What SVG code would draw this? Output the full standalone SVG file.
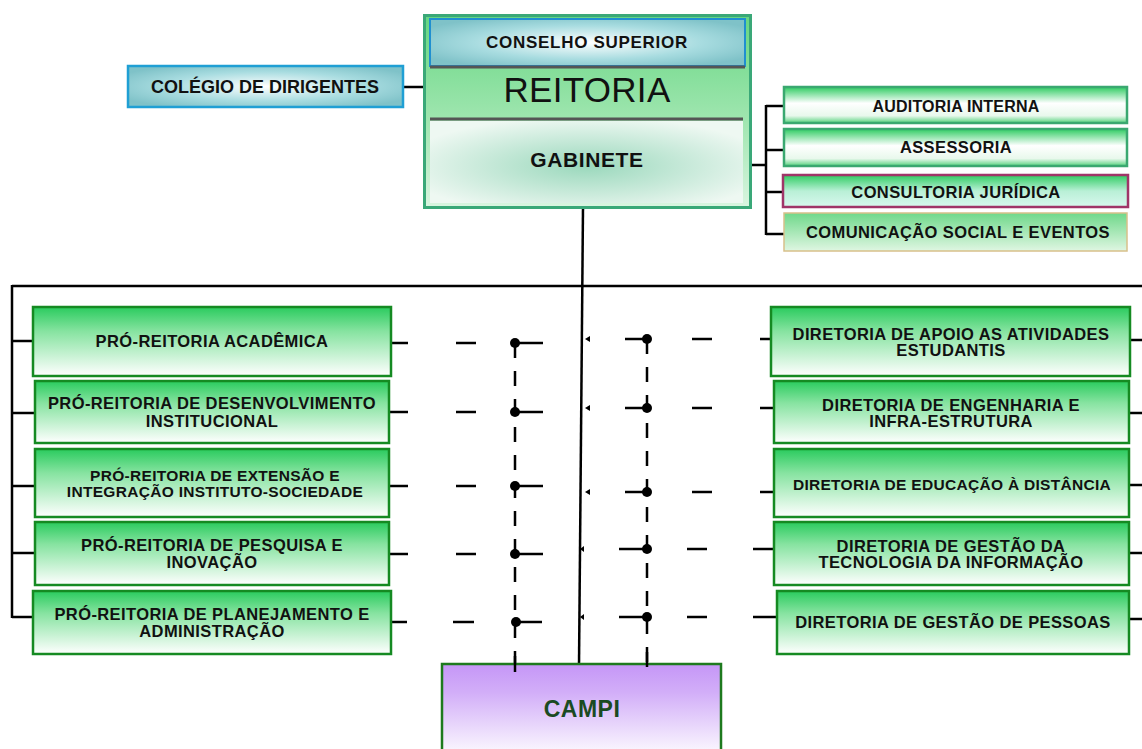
<svg xmlns="http://www.w3.org/2000/svg" width="1142" height="749" viewBox="0 0 1142 749">
<defs>
<linearGradient id="gGreen" x1="0" y1="0" x2="0" y2="1">
<stop offset="0" stop-color="#2acb5e"/><stop offset="0.35" stop-color="#86e3a0"/><stop offset="1" stop-color="#ffffff"/>
</linearGradient>
<linearGradient id="gBand" x1="0" y1="0" x2="0" y2="1">
<stop offset="0" stop-color="#2fcc62"/><stop offset="0.45" stop-color="#ffffff"/><stop offset="0.8" stop-color="#e8f8ec"/><stop offset="1" stop-color="#55d27c"/>
</linearGradient>
<linearGradient id="gJur" x1="0" y1="0" x2="0" y2="1">
<stop offset="0" stop-color="#2fcc62"/><stop offset="0.5" stop-color="#b9f0d6"/><stop offset="1" stop-color="#d8f8ee"/>
</linearGradient>
<linearGradient id="gCom" x1="0" y1="0" x2="0" y2="1">
<stop offset="0" stop-color="#6fd88a"/><stop offset="1" stop-color="#dff6e2"/>
</linearGradient>
<radialGradient id="gTeal" cx="0.5" cy="0.5" r="0.6">
<stop offset="0" stop-color="#ffffff"/><stop offset="0.6" stop-color="#a8dce0"/><stop offset="1" stop-color="#7fc2c8"/>
</radialGradient>
<radialGradient id="gGab" cx="0.5" cy="0.55" r="0.6">
<stop offset="0" stop-color="#9ad8bc"/><stop offset="1" stop-color="#eef8f2"/>
</radialGradient>
<linearGradient id="gReit" x1="0" y1="0" x2="0" y2="1">
<stop offset="0" stop-color="#66d682"/><stop offset="0.55" stop-color="#a0e6b0"/><stop offset="1" stop-color="#d9f5e0"/>
</linearGradient>
<linearGradient id="gCampi" x1="0" y1="0" x2="0" y2="1">
<stop offset="0" stop-color="#c596f7"/><stop offset="0.3" stop-color="#d2aef8"/><stop offset="1" stop-color="#ffffff"/>
</linearGradient>
<style>
.t{font-family:"Liberation Sans",Arial,sans-serif;font-weight:bold;fill:#111;text-anchor:middle}
.s15{font-size:16.5px;letter-spacing:0.4px}
.s14{font-size:15.5px;letter-spacing:0.3px}
.box{fill:url(#gGreen);stroke:#158a22;stroke-width:2.5}
.ln{stroke:#000;stroke-width:2.5;fill:none}
.dv{stroke:#000;stroke-width:2.5;fill:none;stroke-dasharray:15 13}
</style>
</defs>
<rect width="1142" height="749" fill="#ffffff"/>

<g id="connectors">
<line class="ln" x1="403" y1="87" x2="427" y2="87"/>
<polyline class="ln" points="745,165 766,165"/>
<line class="ln" x1="766" y1="105" x2="766" y2="235"/>
<line class="ln" x1="766" y1="106" x2="784" y2="106"/>
<line class="ln" x1="766" y1="150" x2="784" y2="150"/>
<line class="ln" x1="766" y1="192" x2="784" y2="192"/>
<line class="ln" x1="766" y1="234" x2="784" y2="234"/>
<line class="ln" x1="583" y1="207" x2="579" y2="665"/>
<line class="ln" x1="12" y1="286" x2="1142" y2="286"/>
<line class="ln" x1="12" y1="285" x2="12" y2="618"/>
<line class="ln" x1="12" y1="341" x2="34" y2="341"/>
<line class="ln" x1="12" y1="413" x2="36" y2="413"/>
<line class="ln" x1="12" y1="486" x2="36" y2="486"/>
<line class="ln" x1="12" y1="553" x2="36" y2="553"/>
<line class="ln" x1="12" y1="617" x2="34" y2="617"/>
<line class="ln" x1="1130" y1="340" x2="1142" y2="340"/>
<line class="ln" x1="1129" y1="413" x2="1142" y2="413"/>
<line class="ln" x1="1129" y1="485" x2="1142" y2="485"/>
<line class="ln" x1="1129" y1="553" x2="1142" y2="553"/>
<line class="ln" x1="1129" y1="619" x2="1142" y2="619"/>
<g>
<line class="ln" x1="388" y1="343" x2="408" y2="343"/><line class="ln" x1="456" y1="343" x2="476" y2="343"/><line class="ln" x1="515" y1="343" x2="543" y2="343"/>
<line class="ln" x1="388" y1="412" x2="408" y2="412"/><line class="ln" x1="456" y1="412" x2="476" y2="412"/><line class="ln" x1="515" y1="412" x2="543" y2="412"/>
<line class="ln" x1="388" y1="486" x2="408" y2="486"/><line class="ln" x1="456" y1="486" x2="476" y2="486"/><line class="ln" x1="515" y1="486" x2="543" y2="486"/>
<line class="ln" x1="388" y1="554" x2="408" y2="554"/><line class="ln" x1="456" y1="554" x2="476" y2="554"/><line class="ln" x1="515" y1="554" x2="543" y2="554"/>
<line class="ln" x1="387" y1="622" x2="407" y2="622"/><line class="ln" x1="453" y1="622" x2="474" y2="622"/><line class="ln" x1="515" y1="622" x2="542" y2="622"/>
<circle cx="515" cy="343" r="5"/><circle cx="515" cy="412" r="5"/><circle cx="515" cy="486" r="5"/><circle cx="515" cy="554" r="5"/><circle cx="516" cy="622" r="5"/>
<line class="dv" x1="515" y1="343" x2="515" y2="670"/>
</g>
<g fill="#000">
<polygon points="585,339 590,336 590,342"/>
<polygon points="585,408 590,405 590,411"/>
<polygon points="585,492 590,489 590,495"/>
<polygon points="580,549 584,546 584,552"/>
<polygon points="580,617 584,614 584,620"/>
</g>
<g>
<line class="ln" x1="625" y1="339" x2="647" y2="339"/><line class="ln" x1="692" y1="339" x2="712" y2="339"/><line class="ln" x1="760" y1="339" x2="772" y2="339"/>
<line class="ln" x1="625" y1="408" x2="647" y2="408"/><line class="ln" x1="692" y1="408" x2="712" y2="408"/><line class="ln" x1="760" y1="408" x2="775" y2="408"/>
<line class="ln" x1="625" y1="492" x2="647" y2="492"/><line class="ln" x1="692" y1="492" x2="712" y2="492"/><line class="ln" x1="760" y1="492" x2="775" y2="492"/>
<line class="ln" x1="619" y1="549" x2="647" y2="549"/><line class="ln" x1="687" y1="549" x2="707" y2="549"/><line class="ln" x1="753" y1="549" x2="775" y2="549"/>
<line class="ln" x1="619" y1="617" x2="647" y2="617"/><line class="ln" x1="687" y1="617" x2="707" y2="617"/><line class="ln" x1="753" y1="617" x2="778" y2="617"/>
<circle cx="647" cy="339" r="5"/><circle cx="647" cy="408" r="5"/><circle cx="647" cy="492" r="5"/><circle cx="647" cy="549" r="5"/><circle cx="647" cy="617" r="5"/>
<line class="dv" x1="647" y1="339" x2="647" y2="668"/>
</g>
</g>

<g id="reitoria">
<rect x="424.5" y="15.5" width="326" height="192" fill="url(#gReit)" stroke="#3aa878" stroke-width="3"/>
<text class="t" x="587" y="102" style="font-size:35px;font-weight:normal;letter-spacing:0.3px">REITORIA</text>
</g>
<g id="conselho-superior">
<rect x="430" y="19" width="315" height="47" fill="url(#gTeal)" stroke="#1f8fd0" stroke-width="2"/>
<line x1="430" y1="67" x2="745" y2="67" stroke="#555" stroke-width="3"/>
<text class="t" x="587" y="48" style="font-size:17px;letter-spacing:0.7px">CONSELHO SUPERIOR</text>
</g>
<g id="gabinete">
<line x1="430" y1="119" x2="743" y2="119" stroke="#555" stroke-width="3"/>
<rect x="430" y="121" width="313" height="82" fill="url(#gGab)"/>
<text class="t" x="587" y="167" style="font-size:21px;letter-spacing:0.6px">GABINETE</text>
</g>
<g id="colegio">
<rect x="128" y="66" width="275" height="41" fill="url(#gTeal)" stroke="#1f9fd4" stroke-width="2.5"/>
<text class="t" x="265" y="93" style="font-size:18px">COLÉGIO DE DIRIGENTES</text>
</g>

<g id="auditoria">
<rect x="784" y="87" width="343" height="36" fill="url(#gBand)" stroke="#3aa870" stroke-width="2.5"/>
<text class="t" x="956" y="112" style="font-size:16px;letter-spacing:0.2px">AUDITORIA INTERNA</text>
</g>
<g id="assessoria">
<rect x="784" y="129" width="343" height="37" fill="url(#gBand)" stroke="#3aa870" stroke-width="2.5"/>
<text class="t s15" x="956" y="153">ASSESSORIA</text>
</g>
<g id="consultoria">
<rect x="783" y="175" width="345" height="32" fill="url(#gJur)" stroke="#a03568" stroke-width="2.5"/>
<text class="t s15" x="956" y="198">CONSULTORIA JURÍDICA</text>
</g>
<g id="comunicacao">
<rect x="784" y="213" width="343" height="38" fill="url(#gCom)" stroke="#d8c08a" stroke-width="1.5"/>
<text class="t s15" x="958" y="238">COMUNICAÇÃO SOCIAL E EVENTOS</text>
</g>

<g id="pr-academica">
<rect class="box" x="33" y="307" width="358" height="69"/>
<text class="t s15" x="212" y="347">PRÓ-REITORIA ACADÊMICA</text>
</g>
<g id="pr-desenvolvimento">
<rect class="box" x="35" y="381" width="354" height="62"/>
<text class="t s15" x="212" y="409">PRÓ-REITORIA DE DESENVOLVIMENTO</text>
<text class="t s15" x="212" y="427">INSTITUCIONAL</text>
</g>
<g id="pr-extensao">
<rect class="box" x="35" y="449" width="354" height="68"/>
<text class="t s14" x="215" y="481">PRÓ-REITORIA DE EXTENSÃO E</text>
<text class="t s14" x="215" y="497">INTEGRAÇÃO INSTITUTO-SOCIEDADE</text>
</g>
<g id="pr-pesquisa">
<rect class="box" x="35" y="522" width="354" height="63"/>
<text class="t s15" x="212" y="551">PRÓ-REITORIA DE PESQUISA E</text>
<text class="t s15" x="212" y="568">INOVAÇÃO</text>
</g>
<g id="pr-planejamento">
<rect class="box" x="33" y="591" width="358" height="63"/>
<text class="t s15" x="212" y="620">PRÓ-REITORIA DE PLANEJAMENTO E</text>
<text class="t s15" x="212" y="637">ADMINISTRAÇÃO</text>
</g>

<g id="dir-apoio">
<rect class="box" x="771" y="307" width="359" height="69"/>
<text class="t s15" x="951" y="340">DIRETORIA DE APOIO AS ATIVIDADES</text>
<text class="t s15" x="951" y="356">ESTUDANTIS</text>
</g>
<g id="dir-engenharia">
<rect class="box" x="774" y="381" width="355" height="62"/>
<text class="t s15" x="951" y="411">DIRETORIA DE ENGENHARIA E</text>
<text class="t s15" x="951" y="427">INFRA-ESTRUTURA</text>
</g>
<g id="dir-ead">
<rect class="box" x="774" y="449" width="355" height="68"/>
<text class="t s14" x="952" y="490">DIRETORIA DE EDUCAÇÃO À DISTÂNCIA</text>
</g>
<g id="dir-ti">
<rect class="box" x="774" y="522" width="355" height="63"/>
<text class="t s15" x="951" y="552">DIRETORIA DE GESTÃO DA</text>
<text class="t s15" x="951" y="568">TECNOLOGIA DA INFORMAÇÃO</text>
</g>
<g id="dir-pessoas">
<rect class="box" x="777" y="591" width="352" height="63"/>
<text class="t s15" x="953" y="628">DIRETORIA DE GESTÃO DE PESSOAS</text>
</g>

<g id="campi">
<rect x="442" y="664" width="279" height="95" fill="url(#gCampi)" stroke="#1e7a1e" stroke-width="2.5"/>
<line class="ln" x1="515" y1="656" x2="515" y2="672"/>
<line class="ln" x1="647" y1="652" x2="647" y2="667"/>
<text class="t" x="582" y="717" style="font-size:23px;letter-spacing:0.5px;fill:#1b4a22">CAMPI</text>
</g>
</svg>
